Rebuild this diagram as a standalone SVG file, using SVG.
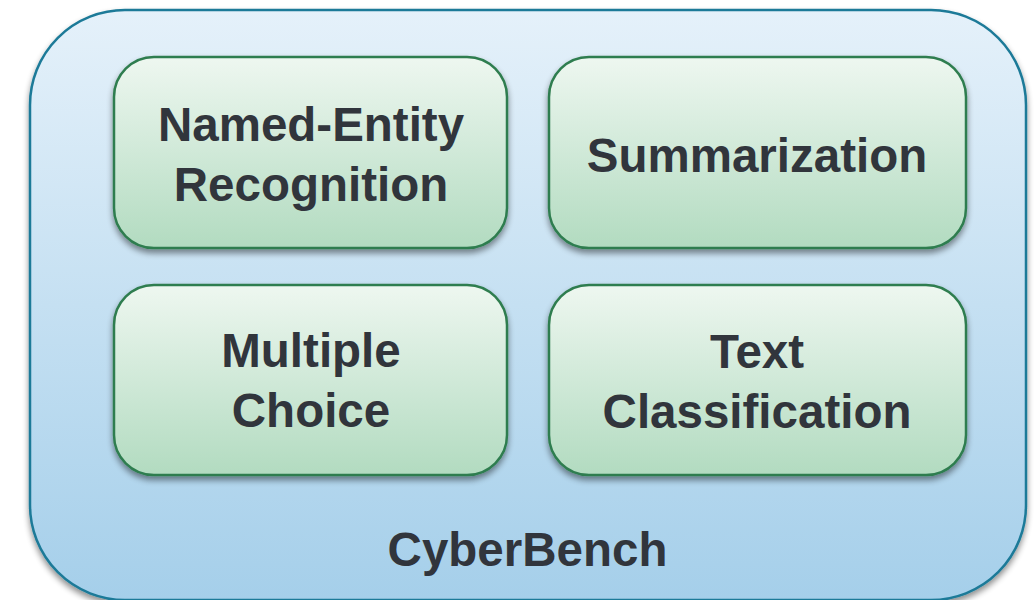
<svg xmlns="http://www.w3.org/2000/svg" width="1035" height="600" viewBox="0 0 1035 600">
  <defs>
    <linearGradient id="outerGrad" x1="0" y1="0" x2="0" y2="1">
      <stop offset="0" stop-color="#e5f1fa"/>
      <stop offset="1" stop-color="#a5cfea"/>
    </linearGradient>
    <linearGradient id="boxGrad" x1="0" y1="0" x2="0" y2="1">
      <stop offset="0" stop-color="#eef7f0"/>
      <stop offset="1" stop-color="#b2dbc0"/>
    </linearGradient>
    <filter id="shadow" x="-10%" y="-10%" width="120%" height="130%">
      <feGaussianBlur in="SourceAlpha" stdDeviation="3"/>
      <feOffset dx="0" dy="4" result="b"/>
      <feComponentTransfer><feFuncA type="linear" slope="0.45"/></feComponentTransfer>
      <feMerge><feMergeNode/><feMergeNode in="SourceGraphic"/></feMerge>
    </filter>
  </defs>
  <style>
    .outer { fill: url(#outerGrad); stroke: #1c7a98; stroke-width: 2.5; }
    .box { fill: url(#boxGrad); stroke: #2f7d4f; stroke-width: 2.5; }
    .lbl { font-family: "Liberation Sans", Arial, sans-serif; font-weight: bold; font-size: 47.5px; fill: #31353c; text-anchor: middle; }
  </style>
  <rect width="1035" height="600" fill="#ffffff"/>
  <g id="cyberbench">
    <rect class="outer" x="30" y="10" width="996" height="590" rx="95" ry="95" filter="url(#shadow)"/>
    <text class="lbl" x="527.5" y="566">CyberBench</text>
  </g>
  <g id="ner">
    <rect class="box" x="114" y="57" width="393" height="191" rx="40" ry="40" filter="url(#shadow)"/>
    <text class="lbl" x="311" y="141">Named-Entity</text>
    <text class="lbl" x="311" y="201">Recognition</text>
  </g>
  <g id="summarization">
    <rect class="box" x="549" y="57" width="417" height="191" rx="40" ry="40" filter="url(#shadow)"/>
    <text class="lbl" x="757" y="172">Summarization</text>
  </g>
  <g id="multiple-choice">
    <rect class="box" x="114" y="285" width="393" height="190" rx="40" ry="40" filter="url(#shadow)"/>
    <text class="lbl" x="311" y="367">Multiple</text>
    <text class="lbl" x="311" y="427">Choice</text>
  </g>
  <g id="text-classification">
    <rect class="box" x="549" y="285" width="417" height="190" rx="40" ry="40" filter="url(#shadow)"/>
    <text class="lbl" x="757" y="368">Text</text>
    <text class="lbl" x="757" y="428">Classification</text>
  </g>
  <g id="connectors"></g>
</svg>
